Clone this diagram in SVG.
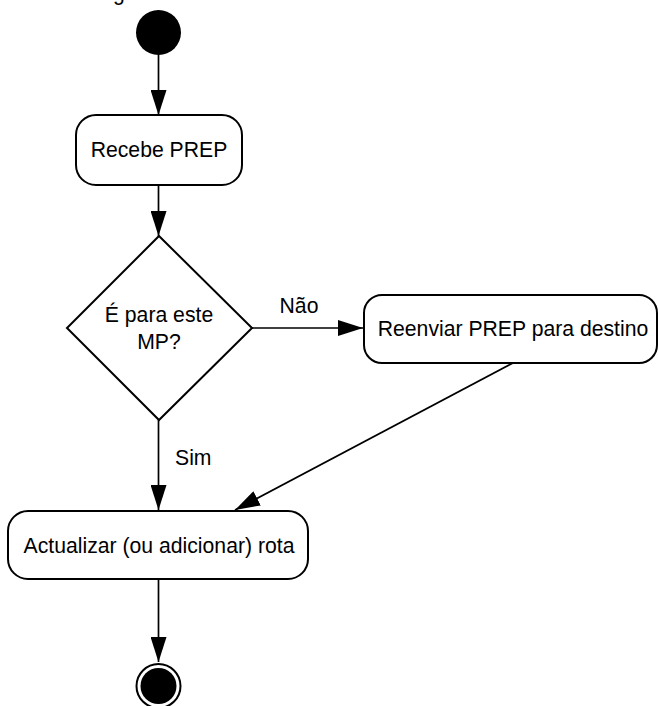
<svg xmlns="http://www.w3.org/2000/svg" width="658" height="706" viewBox="0 0 658 706">
<style>
.node{fill:#fff;stroke:#000;stroke-width:2}
.lbl{font-family:"Liberation Sans",Arial,sans-serif;font-size:21.2px;fill:#000}
.c{text-anchor:middle}
.edge{stroke:#000;stroke-width:1.7;fill:none}
</style>
<defs>
<marker id="ah" markerWidth="25" markerHeight="16" refX="25" refY="8" orient="auto" markerUnits="userSpaceOnUse">
<path d="M0,0 L25,8 L0,16 Z" fill="#000"/>
</marker>
</defs>
<text class="lbl" x="113" y="-0.5">g</text>
<g id="connectors">
<line class="edge" x1="158.5" y1="55" x2="158.5" y2="115" marker-end="url(#ah)"/>
<line class="edge" x1="158.5" y1="185" x2="158.5" y2="236" marker-end="url(#ah)"/>
<line class="edge" x1="252" y1="328" x2="363" y2="328" marker-end="url(#ah)"/>
<line class="edge" x1="513" y1="363" x2="235" y2="510" marker-end="url(#ah)"/>
<line class="edge" x1="158.5" y1="420" x2="158.5" y2="510" marker-end="url(#ah)"/>
<line class="edge" x1="158.5" y1="579" x2="158.5" y2="662" marker-end="url(#ah)"/>
<text class="lbl c" x="299" y="313">Não</text>
<text class="lbl" x="175" y="465">Sim</text>
</g>
<g id="start"><circle cx="158.5" cy="32.5" r="22.5" fill="#000"/></g>
<g id="recebe">
<rect class="node" x="76" y="115" width="166" height="70" rx="20"/>
<text class="lbl c" x="159" y="157">Recebe PREP</text>
</g>
<g id="decisao">
<polygon class="node" points="159,236 252,328 159,420 67,328"/>
<text class="lbl c" x="159" y="322">É para este</text>
<text class="lbl c" x="159" y="349">MP?</text>
</g>
<g id="reenviar">
<rect class="node" x="364" y="295" width="293" height="68" rx="18"/>
<text class="lbl c" x="513" y="336">Reenviar PREP para destino</text>
</g>
<g id="actualizar">
<rect class="node" x="8" y="511" width="300" height="68" rx="20"/>
<text class="lbl c" x="159" y="553">Actualizar (ou adicionar) rota</text>
</g>
<g id="end">
<circle cx="158.5" cy="686" r="22" fill="#fff" stroke="#000" stroke-width="2"/>
<circle cx="158.5" cy="686" r="18" fill="#000"/>
</g>
</svg>
